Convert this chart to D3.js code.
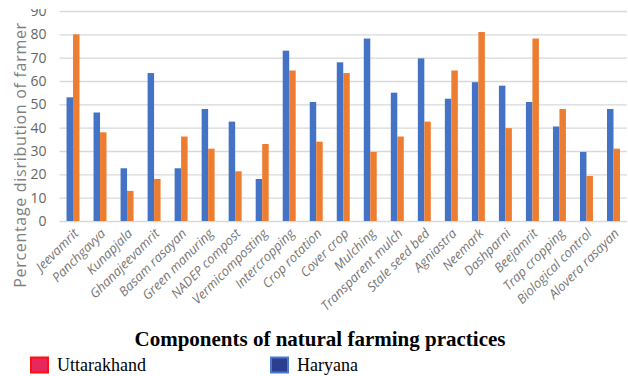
<!DOCTYPE html>
<html>
<head>
<meta charset="utf-8">
<script src="https://cdn.jsdelivr.net/npm/d3@7"></script>
<style>
  body { margin: 0; background: #fff; }
  svg { display: block; }
</style>
</head>
<body>
<svg id="chart" width="628" height="376"></svg>
<script>
// data
var categories = ["Jeevamrit", "Panchgavya", "Kunapjala", "Ghanajeevamrit", "Basam rasayan",
  "Green manuring", "NADEP compost", "Vermicomposting", "Intercropping", "Crop rotation",
  "Cover crop", "Mulching", "Transparent mulch", "Stale seed bed", "Agniastra", "Neemark",
  "Dashparni", "Beejamrit", "Trap cropping", "Biological control", "Alovera rasayan"]
var haryana = [53, 46.5, 22.6, 63.4, 22.6, 48, 42.6, 18, 73, 51, 68, 78.2, 55, 69.7, 52.4, 59.5, 58, 51, 40.5, 29.6, 48]
var uttarakhand = [80, 38, 12.9, 18, 36.2, 31, 21.3, 33, 64.5, 34, 63.4, 29.6, 36.2, 42.6, 64.5, 81, 39.8, 78.2, 48, 19.3, 31]
var series = ["Haryana", "Uttarakhand"]
var yTicks = [0, 10, 20, 30, 40, 50, 60, 70, 80, 90]

// plot box (window.top is reserved, so other names)
var plotLeft = 59.5, plotRight = 627, plotTop = 11, plotBottom = 221

var svg = d3.select("#chart")

var x = d3.scaleBand()
    .domain(categories)
    .range([plotLeft, plotRight])
    .paddingInner(0.52)
    .paddingOuter(0.26)

var xs = d3.scaleBand()
    .domain(series)
    .range([0, x.bandwidth()])

var y = d3.scaleLinear()
    .domain([0, 90])
    .range([plotBottom, plotTop])

var color = d3.scaleOrdinal()
    .domain(series)
    .range(["#4472C4", "#ED7D31"])

// clip so the top label looks cut like in the picture
svg.append("clipPath").attr("id", "topcut")
    .append("rect").attr("x", -100).attr("y", 9).attr("width", 800).attr("height", 369)

// gridlines + y labels
var yAxis = svg.append("g")
    .attr("transform", "translate(" + plotLeft + ",0)")
    .attr("clip-path", "url(#topcut)")
    .call(d3.axisLeft(y).tickValues(yTicks).tickSize(-(plotRight - plotLeft)).tickPadding(13))
yAxis.select(".domain").remove()
yAxis.selectAll(".tick line").attr("stroke", "#d9d9d9").attr("stroke-width", 1.3)
yAxis.selectAll(".tick text")
    .attr("fill", "#666")
    .style("font-family", "'Liberation Sans Narrow', 'Open Sans', sans-serif")
    .style("font-size", "14px")

// bars
var rows = categories.map(function(c, i) {
    return {cat: c, values: [{s: "Haryana", v: haryana[i]}, {s: "Uttarakhand", v: uttarakhand[i]}]}
})

svg.selectAll("g.grp")
    .data(rows)
    .join("g")
    .attr("class", "grp")
    .attr("transform", function(d) { return "translate(" + x(d.cat) + ",0)" })
    .selectAll("rect")
    .data(function(d) { return d.values })
    .join("rect")
    .attr("x", function(d) { return xs(d.s) })
    .attr("width", xs.bandwidth())
    .attr("y", function(d) { return y(d.v) })
    .attr("height", function(d) { return y(0) - y(d.v) })
    .attr("fill", function(d) { return color(d.s) })

// x labels, rotated
svg.append("g")
    .selectAll("text")
    .data(categories)
    .join("text")
    .attr("transform", function(d) {
        return "translate(" + (x(d) + x.bandwidth() / 2 + 3) + "," + (plotBottom + 10) + ") rotate(-45)"
    })
    .attr("text-anchor", "end")
    .attr("dy", "0.35em")
    .attr("fill", "#777")
    .style("font-family", "'Open Sans', sans-serif")
    .style("font-style", "italic")
    .style("font-size", "13px")
    .text(function(d) { return d })

// y title
svg.append("text")
    .attr("transform", "translate(26,155) rotate(-90)")
    .attr("text-anchor", "middle")
    .attr("fill", "#7f7f7f")
    .style("font-family", "'Open Sans', sans-serif")
    .style("font-size", "16px")
    .style("letter-spacing", "0.7px")
    .text("Percentage disribution of farmer")

// x title
svg.append("text")
    .attr("x", 320)
    .attr("y", 346)
    .attr("text-anchor", "middle")
    .style("font-family", "'Liberation Serif', serif")
    .style("font-weight", "bold")
    .style("font-size", "21px")
    .text("Components of natural farming practices")

// legend (as in the picture)
var legend = [
    {name: "Uttarakhand", x: 31, fill: "#E8285A", stroke: "#FF1010"},
    {name: "Haryana", x: 271, fill: "#2A3F8F", stroke: "#4A78CC"}
]
var lg = svg.selectAll("g.leg").data(legend).join("g").attr("class", "leg")
lg.append("rect")
    .attr("x", function(d) { return d.x })
    .attr("y", 357.5)
    .attr("width", 17)
    .attr("height", 15)
    .attr("fill", function(d) { return d.fill })
    .attr("stroke", function(d) { return d.stroke })
    .attr("stroke-width", 2)
lg.append("text")
    .attr("x", function(d) { return d.x + 26 })
    .attr("y", 371)
    .style("font-family", "'Liberation Serif', serif")
    .style("font-size", "18px")
    .text(function(d) { return d.name })
</script>
</body>
</html>
